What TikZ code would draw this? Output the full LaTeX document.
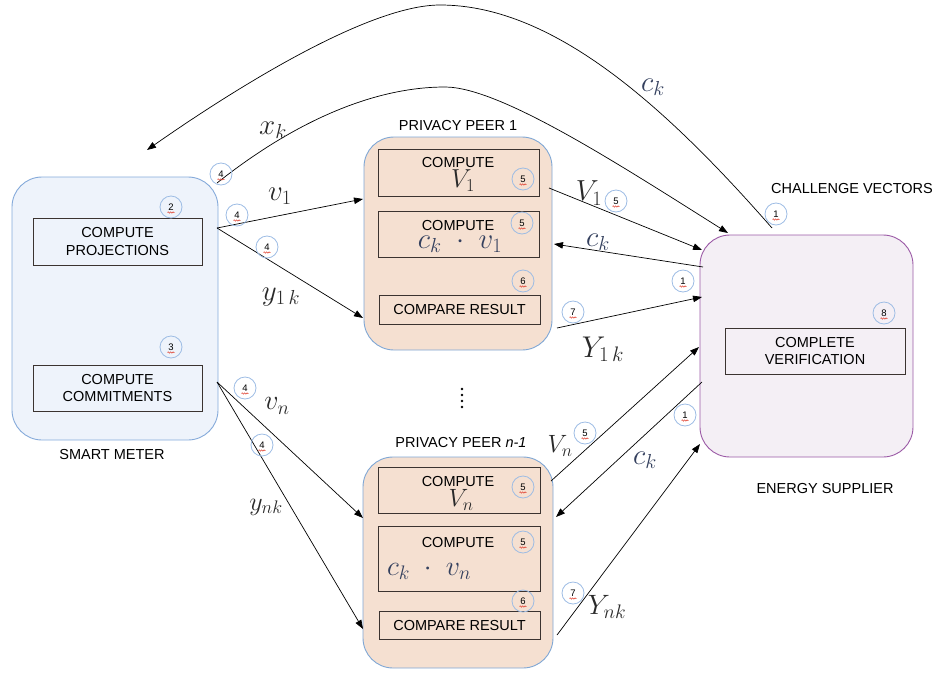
\RequirePackage{fix-cm}
\documentclass[tikz,border=0pt]{standalone}
\usepackage{fontspec}
\setmainfont{Liberation Sans}
\usetikzlibrary{arrows.meta,decorations.pathmorphing}
\definecolor{meterfill}{HTML}{EEF3FB}
\definecolor{meterline}{HTML}{85AADA}
\definecolor{peerfill}{HTML}{F5E0D1}
\definecolor{peerline}{HTML}{7FA7D5}
\definecolor{supfill}{HTML}{F4EFF5}
\definecolor{supline}{HTML}{9B5AA6}
\definecolor{badgeline}{HTML}{9DBCE4}
\definecolor{boxline}{HTML}{3B3330}
\definecolor{squigred}{HTML}{E0402F}
\definecolor{ckcol}{HTML}{34405E}
\definecolor{mathcol}{HTML}{2A2A2A}

% numbered step marker with a wavy underline under the digit
\newcommand\stepmark[3]{%
  \node[badge] (#1) at (#2) {#3};
  \draw[squig] ([shift={(-3.5pt,-5.5pt)}]#1.center) -- ([shift={(3.5pt,-5.5pt)}]#1.center);}

\begin{document}
\begin{tikzpicture}[x=1pt,y=-1pt,
  txt/.style={font=\fontsize{14.5}{17.5}\selectfont, align=center, inner sep=0pt},
  unit/.style={draw, rounded corners=30pt, line width=0.9pt, inner sep=0pt},
  task/.style={draw=boxline, line width=0.9pt, inner sep=0pt, txt},
  badge/.style={circle, draw=badgeline, line width=0.8pt, minimum size=22pt,
    inner sep=0pt, font=\fontsize{9.5}{10}\selectfont},
  squig/.style={draw=squigred, line width=0.5pt, decorate,
    decoration={snake, amplitude=0.7pt, segment length=2.4pt}},
  flow/.style={-{Triangle[length=9pt,width=6.5pt]}, line width=0.7pt},
  ml/.style={inner sep=0pt, text=mathcol},
  mlc/.style={inner sep=0pt, text=ckcol}
]
\useasboundingbox (0,0) rectangle (937,675);

% ---------- smart meter ----------
\node[unit, draw=meterline, fill=meterfill, minimum width=206pt, minimum height=263pt]
  (sm) at (115,308.5) {};
\node[task, minimum width=169pt, minimum height=47pt] (proj) at (117.5,241.5) {COMPUTE\\PROJECTIONS};
\node[task, minimum width=169pt, minimum height=46pt] (comm) at (117.5,388) {COMPUTE\\COMMITMENTS};
\node[txt] (smlbl) at (112,455) {SMART METER};

% ---------- privacy peer 1 ----------
\node[unit, draw=peerline, fill=peerfill, minimum width=188pt, minimum height=213pt]
  (pp1) at (458,243.5) {};
\node[txt] (pp1lbl) at (458,126) {PRIVACY PEER 1};
\node[task, minimum width=161pt, minimum height=47pt] (v1box) at (458.5,172.5) {};
\node[txt] (v1t) at (458,163) {COMPUTE};
\node[ml, font=\fontsize{26}{26}\selectfont] (v1m) at (463,181) {$V_1$};
\node[task, minimum width=161pt, minimum height=46pt] (ck1box) at (458.5,234) {};
\node[txt] (ck1t) at (458,226) {COMPUTE};
\node[mlc, font=\fontsize{29}{29}\selectfont] (ck1m) at (460,244) {$c_k\;\cdot\;v_1$};
\node[task, minimum width=161pt, minimum height=29pt] (cmp1) at (459.5,309.5) {COMPARE RESULT};

% ---------- dots between peers ----------
\foreach \yy in {389,395,401,407} \fill (462,\yy) circle (1.3pt);

% ---------- privacy peer n-1 ----------
\node[unit, draw=peerline, fill=peerfill, minimum width=190pt, minimum height=211pt]
  (ppn) at (458,562.5) {};
\node[txt] (ppnlbl) at (461,443) {PRIVACY PEER \textit{n-1}};
\node[task, minimum width=162pt, minimum height=46pt] (vnbox) at (459,490) {};
\node[txt] (vnt) at (458,482) {COMPUTE};
\node[ml, font=\fontsize{25}{25}\selectfont] (vnm) at (461,500) {$V_n$};
\node[task, minimum width=162pt, minimum height=65pt] (cknbox) at (459,558.5) {};
\node[txt] (cknt) at (458,542) {COMPUTE};
\node[mlc, font=\fontsize{28}{28}\selectfont] (cknm) at (429,571) {$c_k\;\cdot\;v_n$};
\node[task, minimum width=161pt, minimum height=28pt] (cmpn) at (459.5,625) {COMPARE RESULT};

% ---------- energy supplier ----------
\node[unit, draw=supline, fill=supfill, minimum width=213pt, minimum height=222pt]
  (es) at (806.5,346) {};
\node[task, minimum width=180pt, minimum height=46pt] (ver) at (815,351) {COMPLETE\\VERIFICATION};
\node[txt] (chlbl) at (852,189) {CHALLENGE VECTORS};
\node[txt] (eslbl) at (825,489) {ENERGY SUPPLIER};

% ---------- connector ports ----------
\coordinate (smX) at (217,183);
\coordinate (smC) at (147,150);
\coordinate (smA) at (217,228);
\coordinate (smB) at (217,382);
\coordinate (p1a) at (363,199);
\coordinate (p1b) at (363,318);
\coordinate (p1v) at (549,188);
\coordinate (p1c) at (554,244);
\coordinate (p1y) at (557,328);
\coordinate (pna) at (363,518);
\coordinate (pnb) at (363,629);
\coordinate (pnv) at (551,481);
\coordinate (pnc) at (556,517);
\coordinate (pny) at (557,635);
\coordinate (esT) at (772,228);
\coordinate (esX) at (728,233);
\coordinate (esV1) at (702,250);
\coordinate (esC1) at (703,267);
\coordinate (esY1) at (702,297);
\coordinate (esVn) at (699,347);
\coordinate (esCn) at (702,382);
\coordinate (esYn) at (700,444);

% ---------- connectors ----------
\draw[flow] (esT) .. controls (660,100) and (550,5) .. (440,5)
  .. controls (370,5) and (240,85) .. (smC);
\draw[flow] (smX) .. controls (290,125) and (370,87) .. (445,87)
  .. controls (500,87) and (620,165) .. (esX);
\draw[flow] (smA) -- (p1a);
\draw[flow] (smA) -- (p1b);
\draw[flow] (smB) -- (pna);
\draw[flow] (smB) -- (pnb);
\draw[flow] (p1v) -- (esV1);
\draw[flow] (esC1) -- (p1c);
\draw[flow] (p1y) -- (esY1);
\draw[flow] (pnv) -- (esVn);
\draw[flow] (esCn) -- (pnc);
\draw[flow] (pny) -- (esYn);

% ---------- connector labels ----------
\node[mlc, font=\fontsize{29}{29}\selectfont] (lck0) at (653,87) {$c_k$};
\node[ml, font=\fontsize{29}{29}\selectfont] (lxk) at (273,130) {$x_k$};
\node[ml, font=\fontsize{29}{29}\selectfont] (lv1) at (280,196) {$v_1$};
\node[ml, font=\fontsize{29}{29}\selectfont] (ly1) at (281,297) {$y_{1\,k}$};
\node[ml, font=\fontsize{28}{28}\selectfont] (lvn) at (277,406) {$v_n$};
\node[ml, font=\fontsize{26}{26}\selectfont] (lyn) at (266,507) {$y_{nk}$};
\node[ml, font=\fontsize{29}{29}\selectfont] (lV1) at (589,193) {$V_1$};
\node[mlc, font=\fontsize{29}{29}\selectfont] (lck1) at (598,242) {$c_k$};
\node[ml, font=\fontsize{30}{30}\selectfont] (lY1) at (603,349) {$Y_{1\,k}$};
\node[ml, font=\fontsize{25}{25}\selectfont] (lVn) at (560,446) {$V_n$};
\node[mlc, font=\fontsize{29}{29}\selectfont] (lckn) at (645,460) {$c_k$};
\node[ml, font=\fontsize{28}{28}\selectfont] (lYn) at (607,607) {$Y_{nk}$};

% ---------- step markers ----------
\stepmark{s4a}{221,174}{4}
\stepmark{s4b}{237,215}{4}
\stepmark{s4c}{267,247}{4}
\stepmark{s4d}{245,388}{4}
\stepmark{s4e}{262,445}{4}
\stepmark{s2}{171,207}{2}
\stepmark{s3}{171,347}{3}
\stepmark{s5a}{523,179}{5}
\stepmark{s5b}{522,223}{5}
\stepmark{s6a}{523,281}{6}
\stepmark{s5c}{616,201}{5}
\stepmark{s1a}{683,281}{1}
\stepmark{s7a}{573,312}{7}
\stepmark{s1b}{776,214}{1}
\stepmark{s8}{884,313}{8}
\stepmark{s5d}{585,433}{5}
\stepmark{s1c}{685,415}{1}
\stepmark{s5e}{523,487}{5}
\stepmark{s5f}{523,542}{5}
\stepmark{s6b}{523,601}{6}
\stepmark{s7b}{573,593}{7}
\end{tikzpicture}
\end{document}
